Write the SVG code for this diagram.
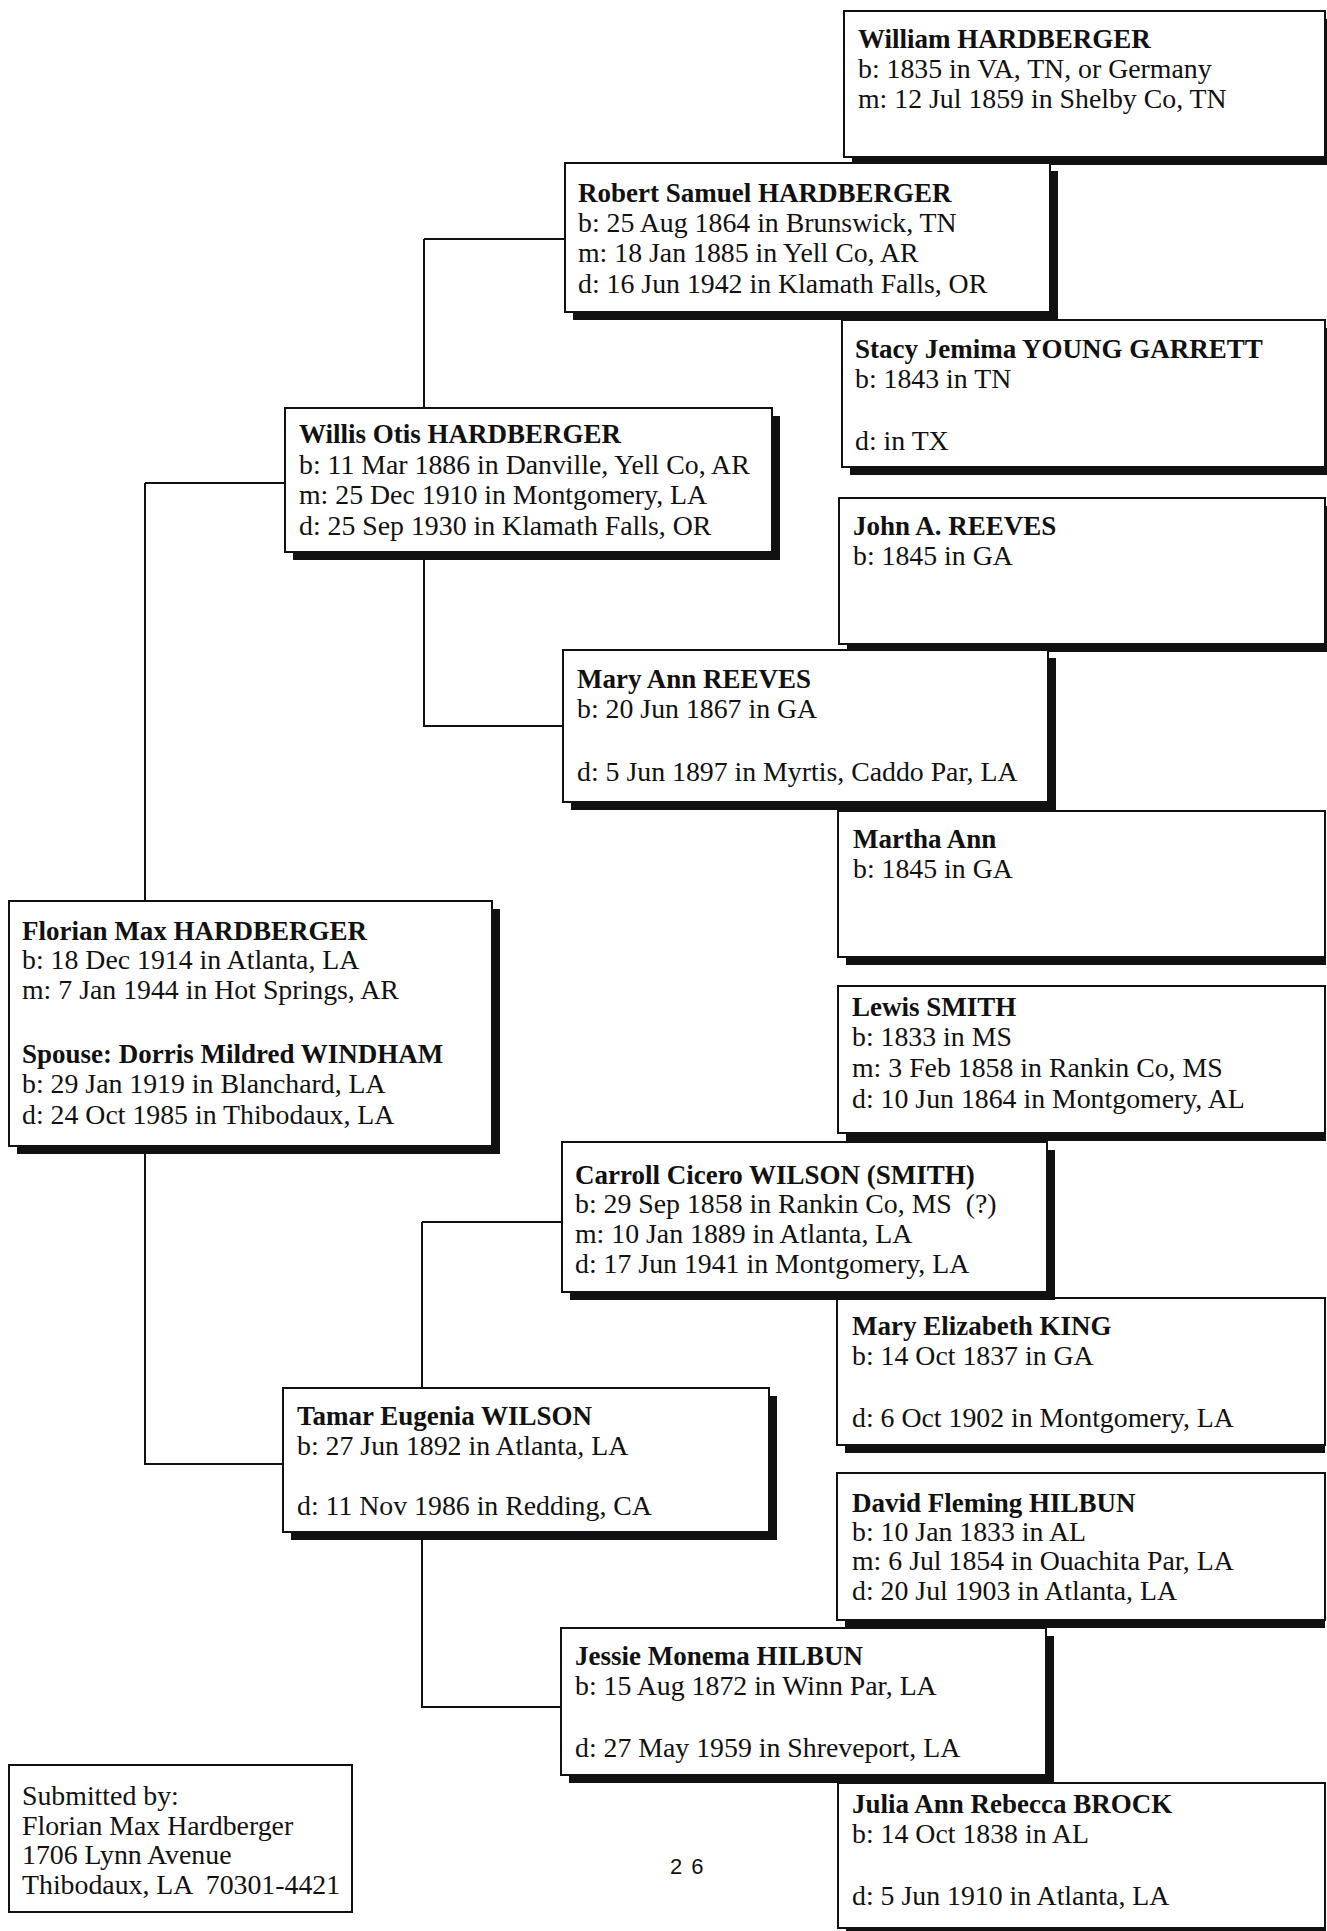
<svg xmlns="http://www.w3.org/2000/svg" width="1327" height="1931" viewBox="0 0 1327 1931">
<style>
text{font-family:"Liberation Serif","Times New Roman",serif;font-size:27.8px;fill:#111;white-space:pre}
.n{font-weight:bold;font-size:27px}
.sh{fill:#111}
.bx{fill:#fff;stroke:#111;stroke-width:2}
.ln{fill:none;stroke:#111;stroke-width:2}
.pg{font-family:"Liberation Sans",Arial,sans-serif;font-size:22px;letter-spacing:9px}
</style>
<rect width="1327" height="1931" fill="#fff"/>
<g id="connectors">
<path class="ln" d="M145,483 H285 M145,483 V901 M145,1145 V1464 H283"/>
<path class="ln" d="M424,239 H565 M424,239 V408 M424,552 V726 H563"/>
<path class="ln" d="M422,1222 H562 M422,1222 V1388 M422,1532 V1707 H561"/>
</g>
<g id="william">
<rect class="sh" x="852" y="19" width="480" height="146"/>
<rect class="bx" x="844" y="11" width="481" height="146"/>
<text class="n" x="858" y="48">William HARDBERGER</text>
<text x="858" y="78">b: 1835 in VA, TN, or Germany</text>
<text x="858" y="108">m: 12 Jul 1859 in Shelby Co, TN</text>
</g>
<g id="stacy">
<rect class="sh" x="850" y="328" width="480" height="147"/>
<rect class="bx" x="842" y="320" width="483" height="147"/>
<text class="n" x="855" y="358">Stacy Jemima YOUNG GARRETT</text>
<text x="855" y="388">b: 1843 in TN</text>
<text x="855" y="450">d: in TX</text>
</g>
<g id="john">
<rect class="sh" x="847" y="506" width="480" height="146"/>
<rect class="bx" x="839" y="498" width="486" height="146"/>
<text class="n" x="853" y="535">John A. REEVES</text>
<text x="853" y="565">b: 1845 in GA</text>
</g>
<g id="martha">
<rect class="sh" x="846" y="819" width="480" height="146"/>
<rect class="bx" x="838" y="811" width="487" height="146"/>
<text class="n" x="853" y="848">Martha Ann</text>
<text x="853" y="878">b: 1845 in GA</text>
</g>
<g id="lewis">
<rect class="sh" x="846" y="994" width="480" height="147"/>
<rect class="bx" x="838" y="986" width="487" height="147"/>
<text class="n" x="852" y="1016">Lewis SMITH</text>
<text x="852" y="1046">b: 1833 in MS</text>
<text x="852" y="1077">m: 3 Feb 1858 in Rankin Co, MS</text>
<text x="852" y="1108">d: 10 Jun 1864 in Montgomery, AL</text>
</g>
<g id="king">
<rect class="sh" x="845" y="1306" width="480" height="147"/>
<rect class="bx" x="837" y="1298" width="488" height="147"/>
<text class="n" x="852" y="1335">Mary Elizabeth KING</text>
<text x="852" y="1365">b: 14 Oct 1837 in GA</text>
<text x="852" y="1427">d: 6 Oct 1902 in Montgomery, LA</text>
</g>
<g id="david">
<rect class="sh" x="845" y="1481" width="480" height="147"/>
<rect class="bx" x="837" y="1473" width="488" height="147"/>
<text class="n" x="852" y="1512">David Fleming HILBUN</text>
<text x="852" y="1541">b: 10 Jan 1833 in AL</text>
<text x="852" y="1570">m: 6 Jul 1854 in Ouachita Par, LA</text>
<text x="852" y="1600">d: 20 Jul 1903 in Atlanta, LA</text>
</g>
<g id="julia">
<rect class="sh" x="846" y="1791" width="480" height="146"/>
<rect class="bx" x="838" y="1783" width="487" height="145"/>
<text class="n" x="852" y="1813">Julia Ann Rebecca BROCK</text>
<text x="852" y="1843">b: 14 Oct 1838 in AL</text>
<text x="852" y="1905">d: 5 Jun 1910 in Atlanta, LA</text>
</g>
<g id="robert">
<rect class="sh" x="573" y="171" width="485" height="149"/>
<rect class="bx" x="565" y="163" width="485" height="149"/>
<text class="n" x="578" y="202">Robert Samuel HARDBERGER</text>
<text x="578" y="232">b: 25 Aug 1864 in Brunswick, TN</text>
<text x="578" y="262">m: 18 Jan 1885 in Yell Co, AR</text>
<text x="578" y="293">d: 16 Jun 1942 in Klamath Falls, OR</text>
</g>
<g id="maryann">
<rect class="sh" x="571" y="658" width="485" height="152"/>
<rect class="bx" x="563" y="650" width="485" height="152"/>
<text class="n" x="577" y="688">Mary Ann REEVES</text>
<text x="577" y="718">b: 20 Jun 1867 in GA</text>
<text x="577" y="781">d: 5 Jun 1897 in Myrtis, Caddo Par, LA</text>
</g>
<g id="carroll">
<rect class="sh" x="570" y="1150" width="485" height="150"/>
<rect class="bx" x="562" y="1142" width="485" height="150"/>
<text class="n" x="575" y="1184">Carroll Cicero WILSON (SMITH)</text>
<text x="575" y="1213" xml:space="preserve">b: 29 Sep 1858 in Rankin Co, MS  (?)</text>
<text x="575" y="1243">m: 10 Jan 1889 in Atlanta, LA</text>
<text x="575" y="1273">d: 17 Jun 1941 in Montgomery, LA</text>
</g>
<g id="jessie">
<rect class="sh" x="569" y="1636" width="485" height="147"/>
<rect class="bx" x="561" y="1628" width="485" height="147"/>
<text class="n" x="575" y="1665">Jessie Monema HILBUN</text>
<text x="575" y="1695">b: 15 Aug 1872 in Winn Par, LA</text>
<text x="575" y="1757">d: 27 May 1959 in Shreveport, LA</text>
</g>
<g id="willis">
<rect class="sh" x="293" y="416" width="487" height="144"/>
<rect class="bx" x="285" y="408" width="487" height="144"/>
<text class="n" x="299" y="443">Willis Otis HARDBERGER</text>
<text x="299" y="474">b: 11 Mar 1886 in Danville, Yell Co, AR</text>
<text x="299" y="504">m: 25 Dec 1910 in Montgomery, LA</text>
<text x="299" y="535">d: 25 Sep 1930 in Klamath Falls, OR</text>
</g>
<g id="tamar">
<rect class="sh" x="291" y="1396" width="486" height="144"/>
<rect class="bx" x="283" y="1388" width="486" height="144"/>
<text class="n" x="297" y="1425">Tamar Eugenia WILSON</text>
<text x="297" y="1455">b: 27 Jun 1892 in Atlanta, LA</text>
<text x="297" y="1515">d: 11 Nov 1986 in Redding, CA</text>
</g>
<g id="florian">
<rect class="sh" x="17" y="909" width="483" height="245"/>
<rect class="bx" x="9" y="901" width="483" height="245"/>
<text class="n" x="22" y="940">Florian Max HARDBERGER</text>
<text x="22" y="969">b: 18 Dec 1914 in Atlanta, LA</text>
<text x="22" y="999">m: 7 Jan 1944 in Hot Springs, AR</text>
<text class="n" x="22" y="1063">Spouse: Dorris Mildred WINDHAM</text>
<text x="22" y="1093">b: 29 Jan 1919 in Blanchard, LA</text>
<text x="22" y="1124">d: 24 Oct 1985 in Thibodaux, LA</text>
</g>
<g id="submitted">
<rect class="bx" x="9" y="1765" width="343" height="147"/>
<text x="22" y="1805">Submitted by:</text>
<text x="22" y="1835">Florian Max Hardberger</text>
<text x="22" y="1864">1706 Lynn Avenue</text>
<text x="22" y="1894" xml:space="preserve">Thibodaux, LA  70301-4421</text>
</g>
<text class="pg" x="670" y="1874">26</text>
</svg>
